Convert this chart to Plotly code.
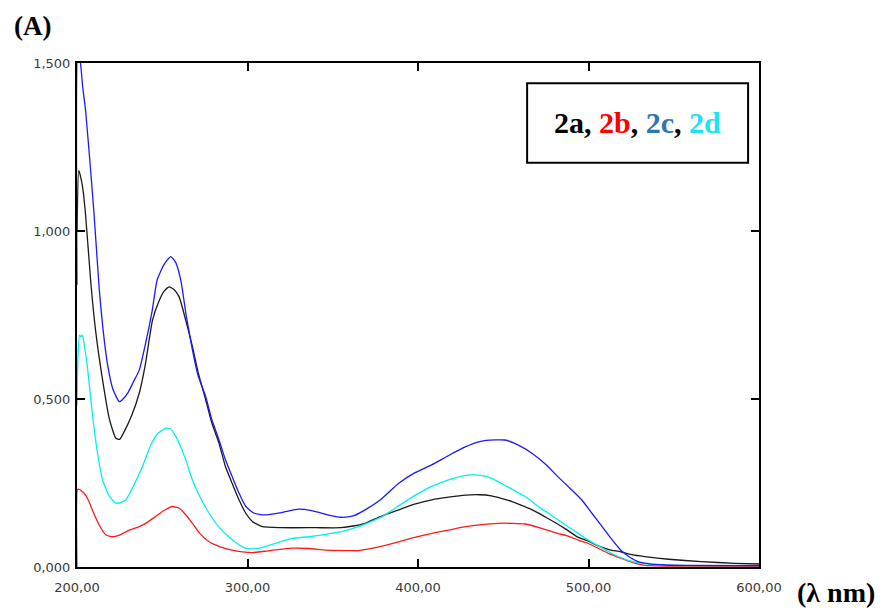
import plotly.graph_objects as go

# 2a (black)
wl_2a = [200, 201, 201.7, 203.3, 205, 208.2, 211, 215, 219, 222.8, 225, 227.7, 232, 236.5, 240, 244.3, 248, 251, 254, 257,
         259.9, 264, 267.7, 271, 275.5, 279, 283.3, 287, 291, 295, 299, 303, 308.7, 320, 340, 355, 362, 369, 378, 388.7,
         398, 408, 418, 428, 436, 443, 452, 460, 467, 476, 486, 494, 500, 506, 512, 519, 526, 533, 547, 566, 586, 600]
abs_2a = [1.0, 1.18, 1.17, 1.13, 1.05, 0.84, 0.70, 0.557, 0.44, 0.383, 0.38, 0.403, 0.45, 0.517, 0.60, 0.735, 0.79, 0.82, 0.834, 0.825,
          0.804, 0.73, 0.656, 0.58, 0.497, 0.43, 0.368, 0.30, 0.249, 0.20, 0.16, 0.135, 0.12, 0.117, 0.117, 0.117, 0.122, 0.13, 0.15, 0.17,
          0.187, 0.20, 0.208, 0.214, 0.215, 0.212, 0.20, 0.185, 0.17, 0.145, 0.115, 0.088, 0.077, 0.062, 0.052, 0.045, 0.036, 0.031, 0.023, 0.016, 0.011, 0.009]

# 2b (red)
wl_2b = [200, 200.2, 201, 203, 205, 207, 209, 213, 217, 220.8, 225, 230, 236.5, 241, 246, 251, 256, 259.9, 263, 267.7,
         272, 277.5, 284, 291, 297, 303, 312, 326, 336, 346, 356, 365, 377, 388.7, 398, 408, 418, 428, 437, 447,
         455, 463, 472, 482, 488, 494, 500, 506, 512, 518, 523, 528, 533, 545, 600]
abs_2b = [0.0, 0.23, 0.232, 0.225, 0.214, 0.195, 0.17, 0.125, 0.095, 0.09, 0.095, 0.108, 0.12, 0.132, 0.15, 0.168, 0.18, 0.175, 0.16, 0.13,
          0.10, 0.075, 0.06, 0.05, 0.045, 0.043, 0.048, 0.056, 0.055, 0.05, 0.049, 0.049, 0.06, 0.075, 0.088, 0.10, 0.11, 0.12, 0.126, 0.13,
          0.13, 0.128, 0.116, 0.10, 0.092, 0.08, 0.07, 0.055, 0.04, 0.028, 0.018, 0.01, 0.005, 0.003, 0.002]

# 2c (blue)
wl_2c = [200, 200.5, 202, 203.3, 205, 208, 210, 213, 215, 218, 221, 224.8, 227, 230, 233, 236.5, 240, 244, 247, 251,
         255, 258, 261, 264, 267.7, 271, 275.5, 279, 283.3, 287, 291, 295, 299, 304, 310, 320, 330, 340, 347, 355,
         362, 369, 378, 388.7, 398, 408, 418, 428, 435, 440, 451, 458, 467, 475, 482, 490, 496, 502, 508, 514,
         519, 524, 529, 535, 545, 560, 600]
abs_2c = [0.84, 1.52, 1.50, 1.43, 1.36, 1.18, 1.05, 0.83, 0.72, 0.60, 0.53, 0.492, 0.50, 0.52, 0.55, 0.586, 0.66, 0.76, 0.854, 0.90,
          0.924, 0.905, 0.85, 0.75, 0.646, 0.57, 0.507, 0.44, 0.378, 0.32, 0.269, 0.22, 0.18, 0.16, 0.155, 0.162, 0.172, 0.165, 0.155, 0.148,
          0.152, 0.17, 0.20, 0.249, 0.28, 0.304, 0.332, 0.358, 0.372, 0.377, 0.378, 0.365, 0.338, 0.305, 0.269, 0.23, 0.20, 0.16, 0.12, 0.08,
          0.05, 0.03, 0.016, 0.01, 0.006, 0.005, 0.004]

# 2d (cyan)
wl_2d = [200, 200.5, 201.5, 202.3, 203.2, 204.3, 206, 209, 212, 215, 219, 222.8, 226, 228.7, 233, 238.4, 243, 247, 252, 255,
         258, 263, 267.7, 272, 277.5, 283, 289, 294, 299, 303, 307, 315, 326, 336, 346, 355, 365, 379, 388, 398.5,
         408, 418, 425, 431.6, 437, 443.4, 452, 463, 472, 482.4, 488, 494, 500, 506, 511.6, 517, 523.3, 530, 537, 550, 600]
abs_2d = [0.48, 0.62, 0.69, 0.685, 0.69, 0.66, 0.60, 0.457, 0.34, 0.259, 0.21, 0.19, 0.192, 0.20, 0.24, 0.299, 0.36, 0.395, 0.413, 0.41,
          0.388, 0.33, 0.259, 0.21, 0.16, 0.12, 0.09, 0.07, 0.056, 0.054, 0.056, 0.068, 0.085, 0.09, 0.097, 0.105, 0.12, 0.15, 0.18, 0.214,
          0.24, 0.259, 0.27, 0.274, 0.273, 0.264, 0.24, 0.209, 0.175, 0.14, 0.12, 0.10, 0.08, 0.062, 0.046, 0.032, 0.02, 0.012, 0.008, 0.005, 0.004]

x_tickvals = [200, 300, 400, 500, 600]
x_ticktext = ["200,00", "300,00", "400,00", "500,00", "600,00"]
y_tickvals = [0, 0.5, 1.0, 1.5]
y_ticktext = ["0,000", "0,500", "1,000", "1,500"]

fig = go.Figure()
series = [
    ("2a", wl_2a, abs_2a, "#1a1a1a"),
    ("2b", wl_2b, abs_2b, "#ff1a1a"),
    ("2d", wl_2d, abs_2d, "#00f0f0"),
    ("2c", wl_2c, abs_2c, "#1a1aff"),
]
for name, xs, ys, col in series:
    fig.add_trace(go.Scatter(x=xs, y=ys, mode="lines", name=name,
                             line=dict(color=col, width=1.3, shape="spline", smoothing=0.5),
                             showlegend=False))

axis_common = dict(showgrid=False, zeroline=False, showline=True, linecolor="black", linewidth=2,
                   ticks="inside", ticklen=8, tickwidth=1.5, tickcolor="black", mirror="ticks",
                   tickfont=dict(family="DejaVu Sans, Verdana, sans-serif", size=13, color="#3a3a3a"))

fig.update_xaxes(range=[200, 600], tickvals=x_tickvals, ticktext=x_ticktext, ticklabelstandoff=7, **axis_common)
fig.update_yaxes(range=[0, 1.5], tickvals=y_tickvals, ticktext=y_ticktext, ticklabelstandoff=2, **axis_common)

fig.update_layout(
    width=882, height=605,
    margin=dict(l=69, r=131, t=55, b=46),
    plot_bgcolor="white", paper_bgcolor="white",
    shapes=[dict(type="rect", xref="paper", yref="paper", x0=0.66, x1=0.984, y0=0.802, y1=0.960,
                 line=dict(color="black", width=2), fillcolor="white", layer="above")],
    annotations=[
        dict(text="<b><span style='color:#000000'>2a</span>, <span style='color:#ff0000'>2b</span>, "
                  "<span style='color:#2e75b6'>2c</span>, <span style='color:#1de2f0'>2d</span></b>",
             xref="paper", yref="paper", x=0.822, y=0.881, xanchor="center", yanchor="middle",
             showarrow=False, font=dict(family="Liberation Serif, Times New Roman, serif", size=30, color="black")),
        dict(text="<b>(A)</b>", xref="paper", yref="paper", x=-0.095, y=1.108, xanchor="left", yanchor="top",
             showarrow=False, font=dict(family="Liberation Serif, Times New Roman, serif", size=27, color="black")),
        dict(text="<b>(λ nm)</b>", xref="paper", yref="paper", x=1.053, y=-0.05, xanchor="left", yanchor="middle",
             showarrow=False, font=dict(family="Liberation Serif, Times New Roman, serif", size=28, color="black")),
    ],
)

fig.write_html("out.html")
